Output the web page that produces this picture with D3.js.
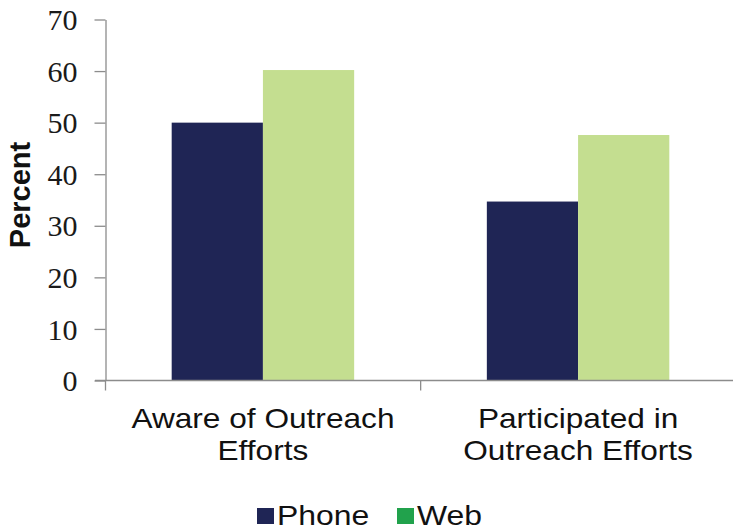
<!DOCTYPE html>
<meta charset="utf-8">
<style>
body { margin: 0; background: #fff; }
.axis path, .axis line { stroke: #8c8c8c; stroke-width: 1.3px; }
.lbl { font-family: "Liberation Sans", Arial, sans-serif; font-size: 28px; fill: #111; }
</style>
<body>
<script src="https://d3js.org/d3.v7.min.js"></script>
<script>

// chart data
var categories = [["Aware of Outreach", "Efforts"], ["Participated in", "Outreach Efforts"]];
var seriesNames = ["Phone", "Web"];
var phoneValues = [50, 34.7];
var webValues = [60.2, 47.6];
var yTicks = [0, 10, 20, 30, 40, 50, 60, 70];

var barColors = {Phone: "#1f2555", Web: "#c4de90"};
var legendColors = {Phone: "#1f2555", Web: "#21a24c"};

var width = 733, height = 531;
var svg = d3.select("body").append("svg")
    .attr("width", width)
    .attr("height", height);

var rows = categories.map(function(c, i) {
  return {key: i, Phone: phoneValues[i], Web: webValues[i]};
});

// scales
var y = d3.scaleLinear().domain([0, 70]).range([380.5, 19.5]);
var x0 = d3.scaleBand().domain(d3.range(categories.length))
    .range([105.5, 735.5]).paddingInner(0.421).paddingOuter(0.21);
var x1 = d3.scaleBand().domain(seriesNames).range([0, x0.bandwidth()]);

// bars
var groups = svg.selectAll("g.grp").data(rows).enter().append("g")
    .attr("class", "grp")
    .attr("transform", function(d) { return "translate(" + x0(d.key) + ",0)"; });

groups.selectAll("rect")
    .data(function(d) { return seriesNames.map(function(s) { return {s: s, v: d[s]}; }); })
    .enter().append("rect")
    .attr("x", function(d) { return x1(d.s); })
    .attr("y", function(d) { return y(d.v); })
    .attr("width", x1.bandwidth())
    .attr("height", function(d) { return y(0) - y(d.v); })
    .attr("fill", function(d) { return barColors[d.s]; });

// y axis
svg.append("g")
    .attr("class", "axis")
    .attr("transform", "translate(105.5,0)")
    .call(d3.axisLeft(y).tickValues(yTicks).tickSize(11).tickSizeOuter(0).tickPadding(17))
    .call(function(g) {
      g.attr("font-family", null).attr("font-size", null);
      g.selectAll(".tick text")
          .attr("dy", "0.34em")
          .attr("font-family", "Liberation Serif, Tinos, Times New Roman, Times, Noto Serif, DejaVu Serif, serif")
          .attr("font-size", 30)
          .attr("fill", "#1a1a1a");
    });

// x axis: baseline plus ticks between categories
var xAxis = svg.append("g").attr("class", "axis");
xAxis.append("line")
    .attr("x1", 95).attr("x2", width)
    .attr("y1", y(0)).attr("y2", y(0));
var step = x0.step();
var bounds = d3.range(categories.length + 1).map(function(i) { return 105.5 + i * step; });
xAxis.selectAll("line.tk").data(bounds).enter().append("line")
    .attr("class", "tk")
    .attr("x1", function(d) { return d; }).attr("x2", function(d) { return d; })
    .attr("y1", y(0)).attr("y2", y(0) + 10);

// category labels (slightly stretched like the original)
categories.forEach(function(lines, i) {
  var cx = x0(i) + x0.bandwidth() / 2;
  lines.forEach(function(t, j) {
    svg.append("text")
        .attr("class", "lbl")
        .attr("text-anchor", "middle")
        .attr("transform", "translate(" + cx + "," + (428 + j * 32) + ") scale(1.13,1)")
        .text(t);
  });
});

// y axis title
svg.append("text")
    .attr("transform", "translate(30,195) rotate(-90)")
    .attr("text-anchor", "middle")
    .style("font-family", "'Liberation Sans', Arial, sans-serif")
    .style("font-size", "29px")
    .style("font-weight", "bold")
    .style("fill", "#111")
    .text("Percent");

// legend
var legendX = [257, 397];
var legend = svg.selectAll("g.leg").data(seriesNames).enter().append("g")
    .attr("class", "leg")
    .attr("transform", function(d, i) { return "translate(" + legendX[i] + ",508)"; });
legend.append("rect")
    .attr("width", 17).attr("height", 16)
    .attr("fill", function(d) { return legendColors[d]; });
legend.append("text")
    .attr("class", "lbl")
    .attr("transform", "translate(20,17) scale(1.14,1)")
    .text(function(d) { return d; });

</script>
</body>
